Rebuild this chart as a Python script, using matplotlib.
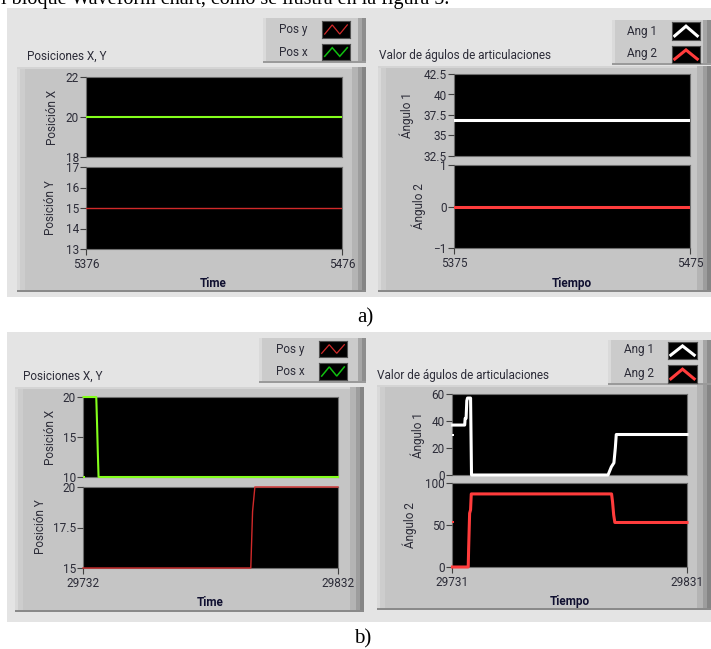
import matplotlib
matplotlib.use('Agg')
import matplotlib.pyplot as plt
from matplotlib.patches import Rectangle

plt.rcParams['font.family'] = ['Roboto', 'DejaVu Sans']

W, H = 711, 649

# ---------------- data ----------------
# a) constant signals
a_pos_time = [5376, 5476]
a_pos_x = [20, 20]
a_pos_y = [15, 15]
a_ang_time = [5375, 5475]
a_ang1 = [36.9, 36.9]
a_ang2 = [0, 0]

# b) step responses (time offsets from start)
b_pos_start = 29732
b_posx_time = [0.2, 5.2, 5.5, 5.8, 6.1, 100]
b_posx = [20, 20, 16.8, 13.2, 10, 10]
b_posx_first = 10
b_posy_time = [0, 65.8, 66.5, 67.4, 100]
b_posy = [15, 15, 18.5, 20, 20]

b_ang_start = 29731
b_ang1_time = [0.3, 5.4, 5.6, 6.0, 6.3, 6.6, 7.9, 8.3, 66.4, 67.8, 68.9, 69.5, 69.9, 100]
b_ang1 = [37, 37, 42, 42, 55, 57, 57, 0, 0, 6, 9, 20, 30, 30]
b_ang1_first = 30
b_ang2_time = [0.2, 6.9, 7.1, 7.5, 7.9, 8.2, 67.9, 68.3, 68.8, 69.3, 100]
b_ang2 = [0, 0, 24, 64, 68, 87, 87, 78, 62, 53, 53]
b_ang2_first = 53

# axis ticks
a_posx_ticks = [18, 20, 22]
a_posy_ticks = [13, 14, 15, 16, 17]
a_ang1_ticks = [32.5, 35, 37.5, 40, 42.5]
a_ang1_labels = ['32.5', '35', '37.5', '40', '42.5']
a_ang2_ticks = [-1, 0, 1]
b_posx_ticks = [10, 15, 20]
b_posy_ticks = [15, 17.5, 20]
b_posy_labels = ['15', '17.5', '20']
b_ang1_ticks = [0, 20, 40, 60]
b_ang2_ticks = [0, 50, 100]

# colors
C_POSX = '#84ff1c'
C_POSY = '#d02a2a'
C_ANG1 = '#ffffff'
C_ANG2 = '#ff3c3c'
TXT = '#2c2c38'
FS = 8.5

fig = plt.figure(figsize=(W / 100, H / 100), dpi=100)
fig.patch.set_facecolor('white')


def rect(x0, y0, x1, y1, color, z=-5):
    fig.add_artist(Rectangle((x0 / W, 1 - y1 / H), (x1 - x0) / W, (y1 - y0) / H,
                             transform=fig.transFigure, facecolor=color,
                             edgecolor='none', zorder=z))


def frame(x0, y0, x1, y1):
    rect(x0, y0, x1, y1, '#c5c5c5')
    rect(x0, y0, x0 + 8, y1, '#cdcdcd')
    rect(x0, y0, x0 + 3, y1, '#d9d9d9')
    rect(x0, y0, x1, y0 + 2, '#d4d4d4')
    rect(x1 - 14, y0, x1, y1, '#b4b4b4')
    rect(x1 - 8, y0, x1, y1, '#9d9d9d')
    rect(x1 - 4, y0, x1, y1, '#858585')
    rect(x0, y1 - 2, x1, y1, '#8a8a8a')


def legend_box(x0, y0, x1, y1):
    rect(x0, y0, x1, y1, '#cbcbcb')
    rect(x0, y0, x0 + 3, y1, '#dadada')
    rect(x1 - 8, y0, x1, y1, '#a6a6a6')
    rect(x1 - 4, y0, x1, y1, '#8e8e8e')
    rect(x0, y1 - 2, x1, y1, '#9a9a9a')


def txt(x, y, s, **kw):
    kw.setdefault('fontsize', FS)
    kw.setdefault('color', TXT)
    return fig.text(x / W, 1 - y / H, s, **kw)


def px_axes(x0, y0, x1, y1):
    return fig.add_axes([x0 / W, 1 - y1 / H, (x1 - x0) / W, (y1 - y0) / H])


def style_plot(ax, ylim, yticks, ylabels=None, xlim=None, xticks=None):
    ax.set_facecolor('black')
    ax.set_ylim(*ylim)
    ax.set_yticks(yticks)
    if ylabels is not None:
        ax.set_yticklabels(ylabels)
    ax.tick_params(axis='y', direction='out', length=4, width=0.8, pad=1.2,
                   colors='#404040', labelcolor=TXT, labelsize=FS)
    if xlim is not None:
        ax.set_xlim(*xlim)
    if xticks is None:
        ax.set_xticks([])
    else:
        ax.set_xticks(xticks)
        ax.set_xticklabels([str(v) for v in xticks])
        ax.tick_params(axis='x', direction='out', length=4, width=0.8, pad=2.5,
                       colors='#404040', labelcolor=TXT, labelsize=FS)
    for s in ax.spines.values():
        s.set_color('#6e6e6e')
        s.set_linewidth(0.8)
        s.set_zorder(1)


def icon(x0, y0, x1, y1, color, lw, shape):
    ax = px_axes(x0, y0, x1, y1)
    ax.set_facecolor('black')
    xs = [i / (len(shape) - 1) for i in range(len(shape))]
    ax.plot(xs, shape, color=color, lw=lw, solid_joinstyle='miter')
    ax.set_xlim(-0.12, 1.12)
    ax.set_ylim(-0.15, 1.15)
    ax.set_xticks([])
    ax.set_yticks([])
    for s in ax.spines.values():
        s.set_color('#505050')
        s.set_linewidth(0.8)


WAVE = [0.15, 0.85, 0.15, 0.85]
CHEV = [0.15, 0.85, 0.15]

# ---------------- background panels ----------------
rect(7, 8, 711, 297, '#e4e4e4', z=-6)
rect(7, 332, 711, 622, '#e4e4e4', z=-6)

# top caption line (cut off by the crop)
fig.text(1 / W, 1 - 4 / H, 'l bloque Waveform chart, como se ilustra en la figura 5.',
         fontsize=14.5, family='Liberation Serif', color='black', ha='left', va='baseline')

# ================= a) left chart =================
frame(17, 67, 366, 292)
legend_box(263, 18, 366, 63)
txt(27, 56, 'Posiciones X, Y', ha='left', va='center')
txt(279, 29, 'Pos y', ha='left', va='center')
txt(279, 52, 'Pos x', ha='left', va='center')
icon(322, 21, 350, 38, C_POSY, 0.9, WAVE)
icon(322, 44, 350, 60, '#10c010', 1.1, WAVE)

ax = px_axes(86, 77, 342, 157)
ax.plot(a_pos_time, a_pos_x, color=C_POSX, lw=1.5)
style_plot(ax, (18, 22), a_posx_ticks, xlim=(a_pos_time[0], a_pos_time[-1]))
ax = px_axes(86, 167, 342, 249)
ax.plot(a_pos_time, a_pos_y, color=C_POSY, lw=1.0)
style_plot(ax, (13, 17), a_posy_ticks, xlim=(a_pos_time[0], a_pos_time[-1]),
           xticks=[a_pos_time[0], a_pos_time[-1]])
txt(53, 117, 'Posición X', rotation=90, ha='center', va='center')
txt(51, 208, 'Posición Y', rotation=90, ha='center', va='center')
txt(213, 283, 'Time', ha='center', va='center', fontweight='bold', color='#101030')

# ================= a) right chart =================
frame(378, 66, 711, 292)
legend_box(612, 20, 711, 65)
txt(379, 56, 'Valor de águlos de articulaciones', ha='left', va='center')
txt(627, 31, 'Ang 1', ha='left', va='center')
txt(627, 54, 'Ang 2', ha='left', va='center')
icon(672, 22, 700, 40, C_ANG1, 2.2, CHEV)
icon(672, 46, 700, 63, C_ANG2, 2.2, CHEV)

ax = px_axes(454, 74, 690, 156)
ax.plot(a_ang_time, a_ang1, color=C_ANG1, lw=2.2)
style_plot(ax, (32.5, 42.5), a_ang1_ticks, a_ang1_labels, xlim=(a_ang_time[0], a_ang_time[-1]))
ax = px_axes(454, 165, 690, 248)
ax.plot(a_ang_time, a_ang2, color=C_ANG2, lw=2.2)
style_plot(ax, (-1, 1), a_ang2_ticks, xlim=(a_ang_time[0], a_ang_time[-1]),
           xticks=[a_ang_time[0], a_ang_time[-1]])
txt(407, 115, 'Ángulo 1', rotation=90, ha='center', va='center')
txt(419, 206, 'Ángulo 2', rotation=90, ha='center', va='center')
txt(572, 283, 'Tiempo', ha='center', va='center', fontweight='bold', color='#101030')

txt(365, 318, 'a)', fontsize=15, family='Liberation Serif', color='black',
    ha='center', va='center')

# ================= b) left chart =================
frame(15, 387, 364, 612)
legend_box(259, 338, 366, 383)
txt(23, 376, 'Posiciones X, Y', ha='left', va='center')
txt(276, 349, 'Pos y', ha='left', va='center')
txt(276, 372, 'Pos x', ha='left', va='center')
icon(319, 341, 347, 357, C_POSY, 0.9, WAVE)
icon(319, 363, 347, 380, '#10c010', 1.1, WAVE)

bx0, bx1 = b_pos_start, b_pos_start + 100
ax = px_axes(83, 397, 338, 477)
ax.plot([b_pos_start + t for t in b_posx_time], b_posx, color=C_POSX, lw=1.5, clip_on=False)
ax.plot([b_pos_start + 0.3], [b_posx_first], 's', color=C_POSX, ms=1.5, mew=0, clip_on=False)
style_plot(ax, (10, 20), b_posx_ticks, xlim=(bx0, bx1))
ax = px_axes(83, 487, 338, 568)
ax.plot([b_pos_start + t for t in b_posy_time], b_posy, color=C_POSY, lw=1.0, clip_on=False)
style_plot(ax, (15, 20), b_posy_ticks, b_posy_labels, xlim=(bx0, bx1), xticks=[bx0, bx1])
txt(50, 437, 'Posición X', rotation=90, ha='center', va='center')
txt(40, 527, 'Posición Y', rotation=90, ha='center', va='center')
txt(210, 603, 'Time', ha='center', va='center', fontweight='bold', color='#101030')

# ================= b) right chart =================
frame(377, 385, 711, 610)
legend_box(608, 340, 711, 385)
txt(377, 375, 'Valor de águlos de articulaciones', ha='left', va='center')
txt(624, 350, 'Ang 1', ha='left', va='center')
txt(624, 374, 'Ang 2', ha='left', va='center')
icon(668, 342, 697, 359, C_ANG1, 2.2, CHEV)
icon(668, 365, 697, 383, C_ANG2, 2.2, CHEV)

ax0, ax1 = b_ang_start, b_ang_start + 100
ax = px_axes(452, 394, 687, 475)
ax.plot([b_ang_start + t for t in b_ang1_time], b_ang1, color=C_ANG1, lw=2.2, clip_on=False)
ax.plot([b_ang_start + 0.3], [b_ang1_first], 's', color=C_ANG1, ms=1.8, mew=0, clip_on=False)
style_plot(ax, (0, 60), b_ang1_ticks, xlim=(ax0, ax1))
ax = px_axes(452, 483, 687, 567)
ax.plot([b_ang_start + t for t in b_ang2_time], b_ang2, color=C_ANG2, lw=2.2, clip_on=False)
ax.plot([b_ang_start + 0.3], [b_ang2_first], 's', color=C_ANG2, ms=1.8, mew=0, clip_on=False)
style_plot(ax, (0, 100), b_ang2_ticks, xlim=(ax0, ax1), xticks=[ax0, ax1])
txt(418, 435, 'Ángulo 1', rotation=90, ha='center', va='center')
txt(410, 525, 'Ángulo 2', rotation=90, ha='center', va='center')
txt(570, 601, 'Tiempo', ha='center', va='center', fontweight='bold', color='#101030')

txt(363, 639, 'b)', fontsize=15, family='Liberation Serif', color='black',
    ha='center', va='center')

fig.savefig('out.png', dpi=100, facecolor='white')
